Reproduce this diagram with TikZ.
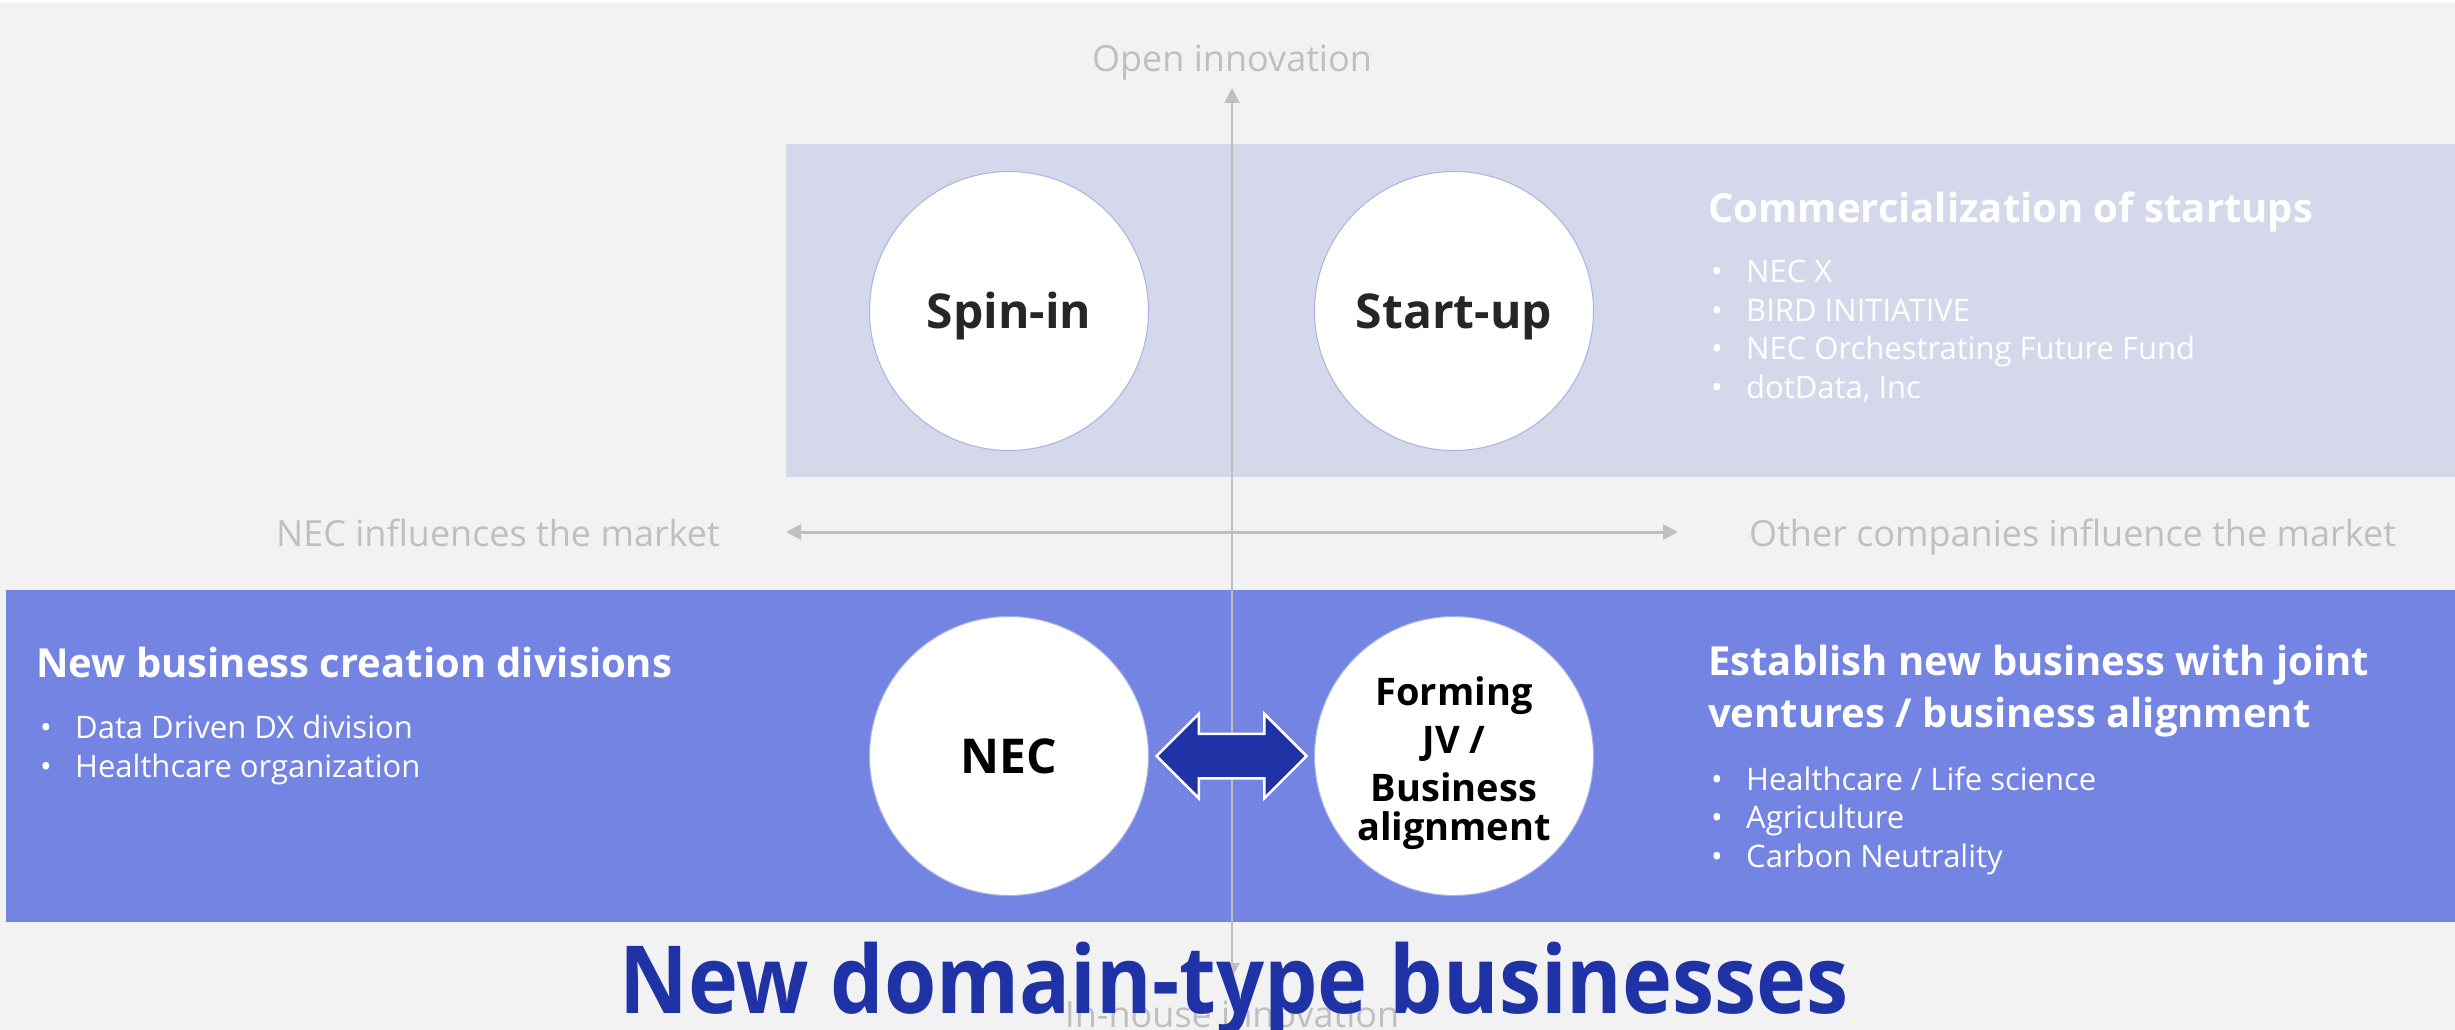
\documentclass[tikz,border=0pt]{standalone}
\usepackage{fontspec}
\setmainfont{Open Sans}
\newfontfamily\titlefont[FakeStretch=0.9]{Open Sans}
\usepackage{xcolor}
\usetikzlibrary{shapes.arrows, arrows.meta, positioning, calc}
\definecolor{necBack}{HTML}{F2F2F2}
\definecolor{necLavender}{HTML}{D5D8EA}
\definecolor{necViolet}{HTML}{7484E2}
\definecolor{necNavy}{HTML}{2033A6}
\definecolor{necGrey}{HTML}{BFBFBF}
\definecolor{necRing}{HTML}{A9B2E6}
\definecolor{necInk}{HTML}{262626}
\newcommand{\itm}{\makebox[35pt][l]{\textbullet}}

\begin{document}
\begin{tikzpicture}[
    x=1pt, y=-1pt,
    disc/.style={circle, fill=white, draw=necRing, line width=1pt, minimum size=279pt, inner sep=0pt, outer sep=0pt, align=center, text=#1, font=\fontsize{48}{48}\selectfont\bfseries},
    axis/.style={{Triangle[length=15pt, width=15pt]}-{Triangle[length=15pt, width=15pt]}, draw=necGrey, line width=#1},
    axislabel/.style={text=necGrey, font=\fontsize{36}{40}\selectfont, inner sep=0pt},
    heading/.style={text=white, font=\fontsize{40}{52}\selectfont\bfseries, inner sep=0pt, anchor=base west, align=left},
    items/.style={text=white, font=\fontsize{31}{38.5}\selectfont, inner sep=0pt, anchor=base west, align=left}
]
\useasboundingbox (0,0) rectangle (2455,1030);

% Background and bands
\fill[white] (0,0) rectangle (2455,1030);
\fill[necBack] (0,3) rectangle (2455,1030);
\fill[necLavender] (786,144) rectangle (2455,477);
\fill[necViolet] (6,590) rectangle (2455,922);

% Axes
\coordinate (axtop) at (1232,88);
\coordinate (axbot) at (1232,978);
\coordinate (axleft) at (786,532);
\coordinate (axright) at (1678,532);
\draw[axis=2pt] (axbot) -- (axtop);
\draw[axis=3pt] (axleft) -- (axright);

\node[axislabel, anchor=base] (open) at (1232,72) {Open innovation};
\node[axislabel, anchor=base] (inhouse) at (1232,1027) {In-house innovation};
\node[axislabel, anchor=base east] (necside) at (720,546) {NEC influences the market};
\node[axislabel, anchor=base west] (otherside) at (1749,546) {Other companies influence the market};

% Circles
\node[disc=necInk, text height=34pt, text depth=0pt] (spinin) at (1009,311) {Spin-in};
\node[disc=necInk, text height=34pt, text depth=0pt, right=166pt of spinin] (startup) {Start-up};
\node[disc=black, text height=34pt, text depth=0pt, below=166pt of spinin] (nec) {NEC};
\node[disc=black, right=166pt of nec, font=\fontsize{38}{39}\selectfont\bfseries] (jv) {\rule{0pt}{43pt}Forming\\[9pt]JV /\\[9pt]Business\\alignment};

% Link between NEC and JV
\node[double arrow, fill=necNavy, draw=white, line width=2.5pt, minimum height=150pt, inner xsep=0pt, inner ysep=21pt, double arrow head extend=20pt] (link) at ($(nec)!0.5!(jv)$) {};

% Upper band text
\node[heading] (startups) at (1708,222) {Commercialization of startups};
\node[items] (startuplist) at (1711,398) {\itm NEC X\\\itm BIRD INITIATIVE\\\itm NEC Orchestrating Future Fund\\\itm dotData, Inc};

% Lower band text
\node[heading] (divisions) at (36,677) {New business creation divisions};
\node[items] (divisionlist) at (40,777) {\itm Data Driven DX division\\\itm Healthcare organization};
\node[heading] (ventures) at (1708,727) {Establish new business with joint\\ventures / business alignment};
\node[items] (venturelist) at (1711,867) {\itm Healthcare / Life science\\\itm Agriculture\\\itm Carbon Neutrality};

% Title
\node[text=necNavy, font=\titlefont\fontsize{94}{94}\selectfont\bfseries, anchor=base, inner sep=0pt] (title) at (1234,1013) {New domain-type businesses};

\end{tikzpicture}
\end{document}
